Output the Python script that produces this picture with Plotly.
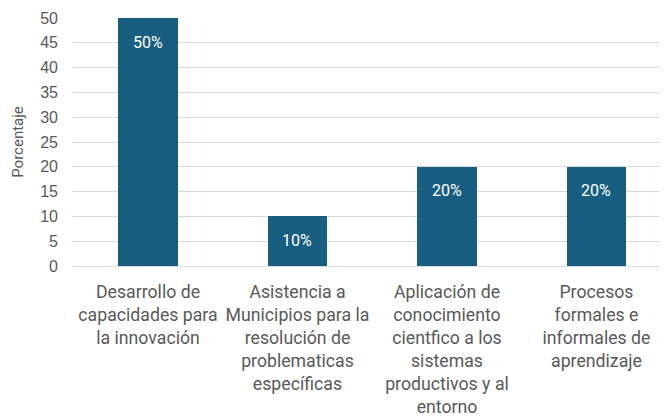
import plotly.graph_objects as go

categories = [
    "Desarrollo de<br>capacidades para<br>la innovación",
    "Asistencia a<br>Municipios para la<br>resolución de<br>problematicas<br>específicas",
    "Aplicación de<br>conocimiento<br>cientfico a los<br>sistemas<br>productivos y al<br>entorno",
    "Procesos<br>formales e<br>informales de<br>aprendizaje",
]
values = [50, 10, 20, 20]
labels = ["50%", "10%", "20%", "20%"]
y_ticks = [0, 5, 10, 15, 20, 25, 30, 35, 40, 45, 50]

BAR = "#175E80"
GREY = "#595959"
FONT = "Roboto, Liberation Sans, Arial, sans-serif"

x_idx = list(range(len(categories)))

fig = go.Figure()
fig.add_trace(go.Bar(x=x_idx, y=values, width=0.395, marker=dict(color=BAR, line=dict(width=0)),
                     hoverinfo="skip"))

for xi, v, t in zip(x_idx, values, labels):
    fig.add_annotation(x=xi, y=v, text=t, showarrow=False, yshift=-24, yanchor="middle",
                       font=dict(family=FONT, size=16, color="white"))

fig.update_layout(
    width=666, height=416,
    margin=dict(l=73, r=6, t=18, b=150, autoexpand=False),
    paper_bgcolor="white", plot_bgcolor="white",
    showlegend=False,
    font=dict(family=FONT, color=GREY),
    bargap=0,
)
fig.update_xaxes(
    tickmode="array", tickvals=x_idx, ticktext=categories,
    range=[-0.5017, 3.425], showgrid=False, zeroline=False,
    showline=True, linecolor="#D9D9D9", linewidth=1,
    ticks="", tickfont=dict(family=FONT, size=17.7, color=GREY),
    tickangle=0, ticklabelstandoff=10, automargin=False,
)
fig.update_yaxes(
    range=[0, 50], tickmode="array", tickvals=y_ticks,
    showgrid=True, gridcolor="#D9D9D9", gridwidth=1, zeroline=False,
    tickfont=dict(family="Liberation Sans, Arial, sans-serif", size=16, color=GREY),
    ticklabelstandoff=14, automargin=False,
    title=dict(text="Porcentaje", font=dict(family=FONT, size=15, color=GREY), standoff=12),
)

fig.write_html("out.html", config={"displayModeBar": False, "staticPlot": True},
               post_script="document.body.style.margin='0';document.body.style.overflow='hidden';")
